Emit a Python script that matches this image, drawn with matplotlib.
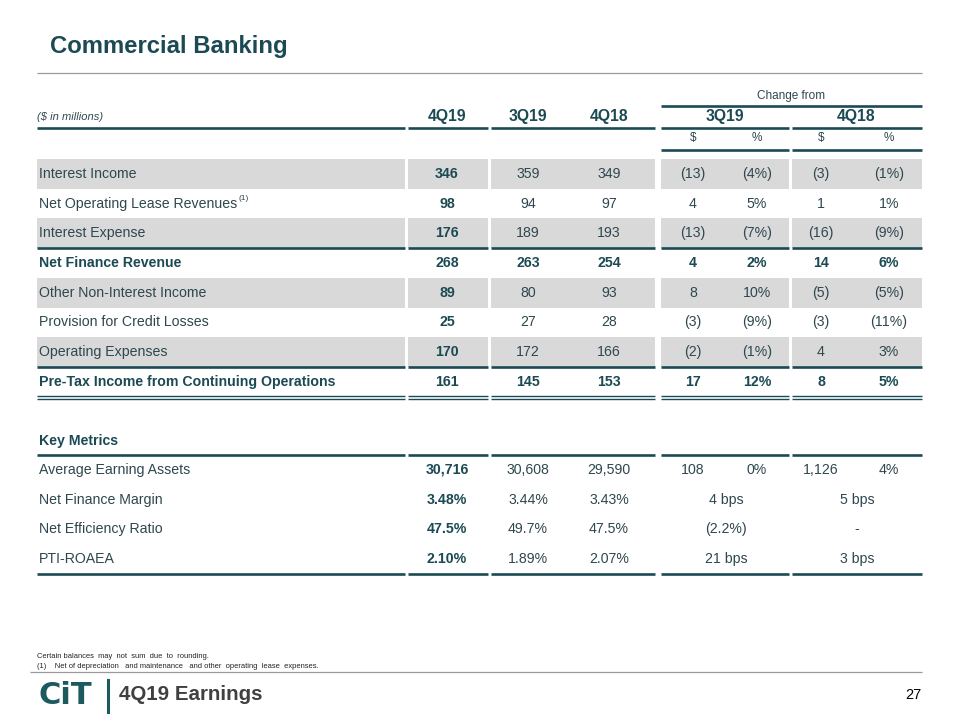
import matplotlib.pyplot as plt
from matplotlib.patches import Rectangle

plt.rcParams['font.family'] = ['Liberation Sans', 'DejaVu Sans']

# ---- table data ----
row_labels = ['Interest Income', 'Net Operating Lease Revenues', 'Interest Expense',
              'Net Finance Revenue', 'Other Non-Interest Income', 'Provision for Credit Losses',
              'Operating Expenses', 'Pre-Tax Income from Continuing Operations']
vals_4q19 = ['346', '98', '176', '268', '89', '25', '170', '161']
vals_3q19 = ['359', '94', '189', '263', '80', '27', '172', '145']
vals_4q18 = ['349', '97', '193', '254', '93', '28', '166', '153']
chg_3q19_usd = ['(13)', '4', '(13)', '4', '8', '(3)', '(2)', '17']
chg_3q19_pct = ['(4%)', '5%', '(7%)', '2%', '10%', '(9%)', '(1%)', '12%']
chg_4q18_usd = ['(3)', '1', '(16)', '14', '(5)', '(3)', '4', '8']
chg_4q18_pct = ['(1%)', '1%', '(9%)', '6%', '(5%)', '(11%)', '3%', '5%']
bold_rows = [3, 7]
grey_rows = [0, 2, 4, 6]

km_labels = ['Average Earning Assets', 'Net Finance Margin', 'Net Efficiency Ratio', 'PTI-ROAEA']
km_4q19 = ['30,716', '3.48%', '47.5%', '2.10%']
km_3q19 = ['30,608', '3.44%', '49.7%', '1.89%']
km_4q18 = ['29,590', '3.43%', '47.5%', '2.07%']
km_chg_3q19 = ['108', '4 bps', '(2.2%)', '21 bps']
km_chg_3q19_pct = ['0%', '', '', '']
km_chg_4q18 = ['1,126', '5 bps', '-', '3 bps']
km_chg_4q18_pct = ['4%', '', '', '']

teal = '#1C4A54'
txt = '#2E474E'
grey_fill = '#D9D9D9'
fs = 10.2

fig = plt.figure(figsize=(9.6, 7.2), dpi=100)
ax = fig.add_axes([0, 0, 1, 1])
ax.set_xlim(0, 960)
ax.set_ylim(720, 0)
ax.axis('off')


def hline(x0, x1, y, lw=1.9, color=teal):
    ax.plot([x0, x1], [y, y], color=color, lw=lw, solid_capstyle='butt')


# column blocks (x ranges) and text centres
blocks = [(37, 405), (408, 488), (491, 655), (661, 789), (792, 922)]
cx = [447, 528, 609, 693, 757, 821, 889]

# title
ax.text(50, 46, 'Commercial Banking', fontsize=17.2, fontweight='bold', color=teal,
        va='center', ha='left')
hline(37, 922, 73, lw=0.9, color='#9A9A9A')

# headers
ax.text(791, 96, 'Change from', fontsize=8.5, color=txt, ha='center', va='center')
hline(661, 922, 106)
ax.text(37, 117, '($ in millions)', fontsize=8, style='italic', color=txt, ha='left', va='center')
for x, h in zip([447, 528, 609, 725, 856], ['4Q19', '3Q19', '4Q18', '3Q19', '4Q18']):
    ax.text(x, 117, h, fontsize=11.3, fontweight='bold', color=teal, ha='center', va='center')
for b in blocks:
    hline(b[0], b[1], 128)
for x, h in zip(cx[3:], ['$', '%', '$', '%']):
    ax.text(x, 138, h, fontsize=8.5, color=txt, ha='center', va='center')
hline(661, 789, 150)
hline(792, 922, 150)

# main rows
top = 159
step = 29.7
for i, lab in enumerate(row_labels):
    y0 = top + i * step
    yc = y0 + step / 2
    if i in grey_rows:
        for b in blocks:
            ax.add_patch(Rectangle((b[0], y0), b[1] - b[0], step, color=grey_fill, lw=0))
    bold = i in bold_rows
    w = 'bold' if bold else 'normal'
    t = ax.text(39, yc, lab, fontsize=fs, fontweight=w, color=teal if bold else txt,
                ha='left', va='center')
    if i == 1:
        fig.canvas.draw()
        bb = t.get_window_extent()
        ax.text(39 + bb.width + 1, yc - 5, '(1)', fontsize=6, color=txt, ha='left', va='center')
    ax.text(cx[0], yc, vals_4q19[i], fontsize=fs, fontweight='bold', color=teal,
            ha='center', va='center')
    cols = [vals_3q19, vals_4q18, chg_3q19_usd, chg_3q19_pct, chg_4q18_usd, chg_4q18_pct]
    for x, col in zip(cx[1:], cols):
        ax.text(x, yc, col[i], fontsize=fs, fontweight=w, color=teal if bold else txt,
                ha='center', va='center')

# rules in main table
for b in blocks:
    hline(b[0], b[1], top + 3 * step)
    hline(b[0], b[1], top + 7 * step)
    hline(b[0], b[1], 395.5, lw=1.0)
    hline(b[0], b[1], 398.7, lw=1.0)

# key metrics
ax.text(39, 441, 'Key Metrics', fontsize=fs, fontweight='bold', color=teal, ha='left', va='center')
for b in blocks:
    hline(b[0], b[1], 455)
    hline(b[0], b[1], 574)
km_top = 455
for i, lab in enumerate(km_labels):
    yc = km_top + step / 2 + i * step
    ax.text(39, yc, lab, fontsize=fs, color=txt, ha='left', va='center')
    ax.text(cx[0], yc, km_4q19[i], fontsize=fs, fontweight='bold', color=teal,
            ha='center', va='center')
    ax.text(cx[1], yc, km_3q19[i], fontsize=fs, color=txt, ha='center', va='center')
    ax.text(cx[2], yc, km_4q18[i], fontsize=fs, color=txt, ha='center', va='center')
    if km_chg_3q19_pct[i]:
        ax.text(cx[3], yc, km_chg_3q19[i], fontsize=fs, color=txt, ha='center', va='center')
        ax.text(cx[4], yc, km_chg_3q19_pct[i], fontsize=fs, color=txt, ha='center', va='center')
    else:
        ax.text(726, yc, km_chg_3q19[i], fontsize=fs, color=txt, ha='center', va='center')
    if km_chg_4q18_pct[i]:
        ax.text(cx[5], yc, km_chg_4q18[i], fontsize=fs, color=txt, ha='center', va='center')
        ax.text(cx[6], yc, km_chg_4q18_pct[i], fontsize=fs, color=txt, ha='center', va='center')
    else:
        ax.text(857, yc, km_chg_4q18[i], fontsize=fs, color=txt, ha='center', va='center')

# footnotes
ax.text(37, 656, 'Certain balances  may  not  sum  due  to  rounding.', fontsize=5.4,
        color='#222222', ha='left', va='center')
ax.text(37, 666, '(1)    Net of depreciation   and maintenance   and other  operating  lease  expenses.',
        fontsize=5.4, color='#222222', ha='left', va='center')
hline(30, 922, 672, lw=0.9, color='#9A9A9A')

# footer
ax.text(39, 695, 'CiT', fontsize=22, fontweight='heavy', color='#1B5A5F', ha='left', va='center',
        family='DejaVu Sans')
ax.plot([108, 108], [680, 712], color='#1B5A5F', lw=2.2)
ax.text(119, 695, '4Q19 Earnings', fontsize=14.8, fontweight='bold', color='#404040',
        ha='left', va='center')
ax.text(921, 695, '27', fontsize=10.5, color='black', ha='right', va='center')

fig.savefig('out.png', dpi=100)
